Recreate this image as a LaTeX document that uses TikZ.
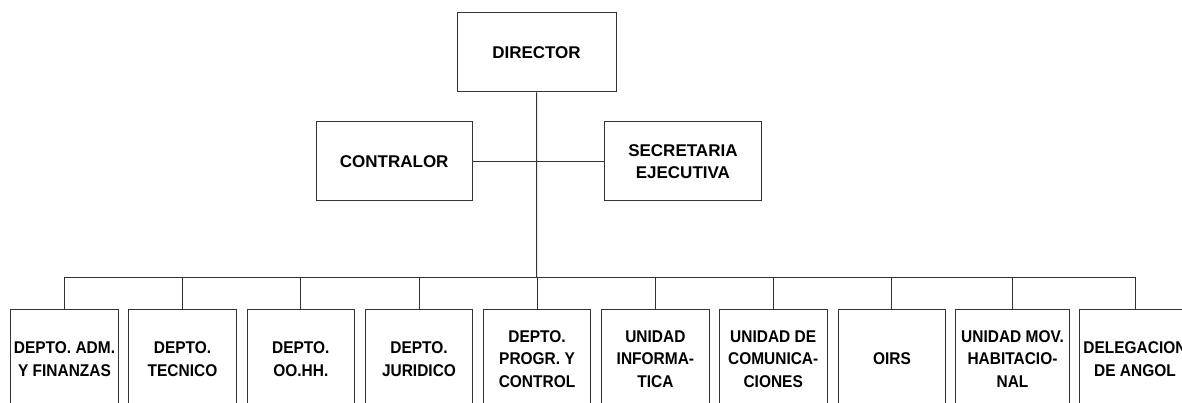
\documentclass[tikz,border=0pt]{standalone}
\usepackage{fontspec}
\setmainfont{Liberation Sans}
\newfontfamily\narrowfont[FakeStretch=0.91]{Liberation Sans}
\begin{document}
\begin{tikzpicture}[x=1pt,y=-1pt,
  orgbox/.style={draw=black!80, line width=1pt, inner sep=0pt, align=center},
  topbox/.style={orgbox, minimum height=79pt,
    font=\fontsize{17}{22}\selectfont\bfseries},
  lowbox/.style={orgbox, minimum width=107.6pt, minimum height=100pt,
    font=\narrowfont\fontsize{17}{22.5}\selectfont\bfseries},
  link/.style={draw=black!80, line width=1pt}]
\useasboundingbox (0,0) rectangle (1182,403);
\clip (0,0) rectangle (1182,403);
\fill[white] (0,0) rectangle (1182,403);
% top level
\node[topbox, minimum width=159pt] (dir) at (536.5,52.5) {DIRECTOR};
\node[topbox, minimum width=156.3pt] (con) at (394.2,161.5) {CONTRALOR};
\node[topbox, minimum width=157.7pt] (sec) at (682.9,161.5) {SECRETARIA\\EJECUTIVA};
% bottom level
\node[lowbox] (b1) at (64.5,359) {DEPTO. ADM.\\Y FINANZAS};
\node[lowbox] (b2) at (182.5,359) {DEPTO.\\TECNICO};
\node[lowbox] (b3) at (300.8,359) {DEPTO.\\OO.HH.};
\node[lowbox] (b4) at (419,359) {DEPTO.\\JURIDICO};
\node[lowbox] (b5) at (537,359) {DEPTO.\\PROGR. Y\\CONTROL};
\node[lowbox] (b6) at (655.4,359) {UNIDAD\\INFORMA-\\TICA};
\node[lowbox] (b7) at (773.2,359) {UNIDAD DE\\COMUNICA-\\CIONES};
\node[lowbox] (b8) at (891.9,359) {OIRS};
\node[lowbox, minimum width=113.6pt] (b9) at (1012.5,359) {UNIDAD MOV.\\HABITACIO-\\NAL};
\node[lowbox, minimum width=112pt] (b10) at (1135,359) {DELEGACION\\DE ANGOL};
% connectors
\coordinate (bus) at (536.7,277.5);
\coordinate (mid) at (536.7,161.5);
\path[link] (dir.south) -- (bus);
\path[link] (con.east) -- (mid) -- (sec.west);
\foreach \b in {b1,b2,b3,b4,b5,b6,b7,b8,b9,b10}{
  \path[link] (\b.north) |- (bus);
}
\end{tikzpicture}
\end{document}
